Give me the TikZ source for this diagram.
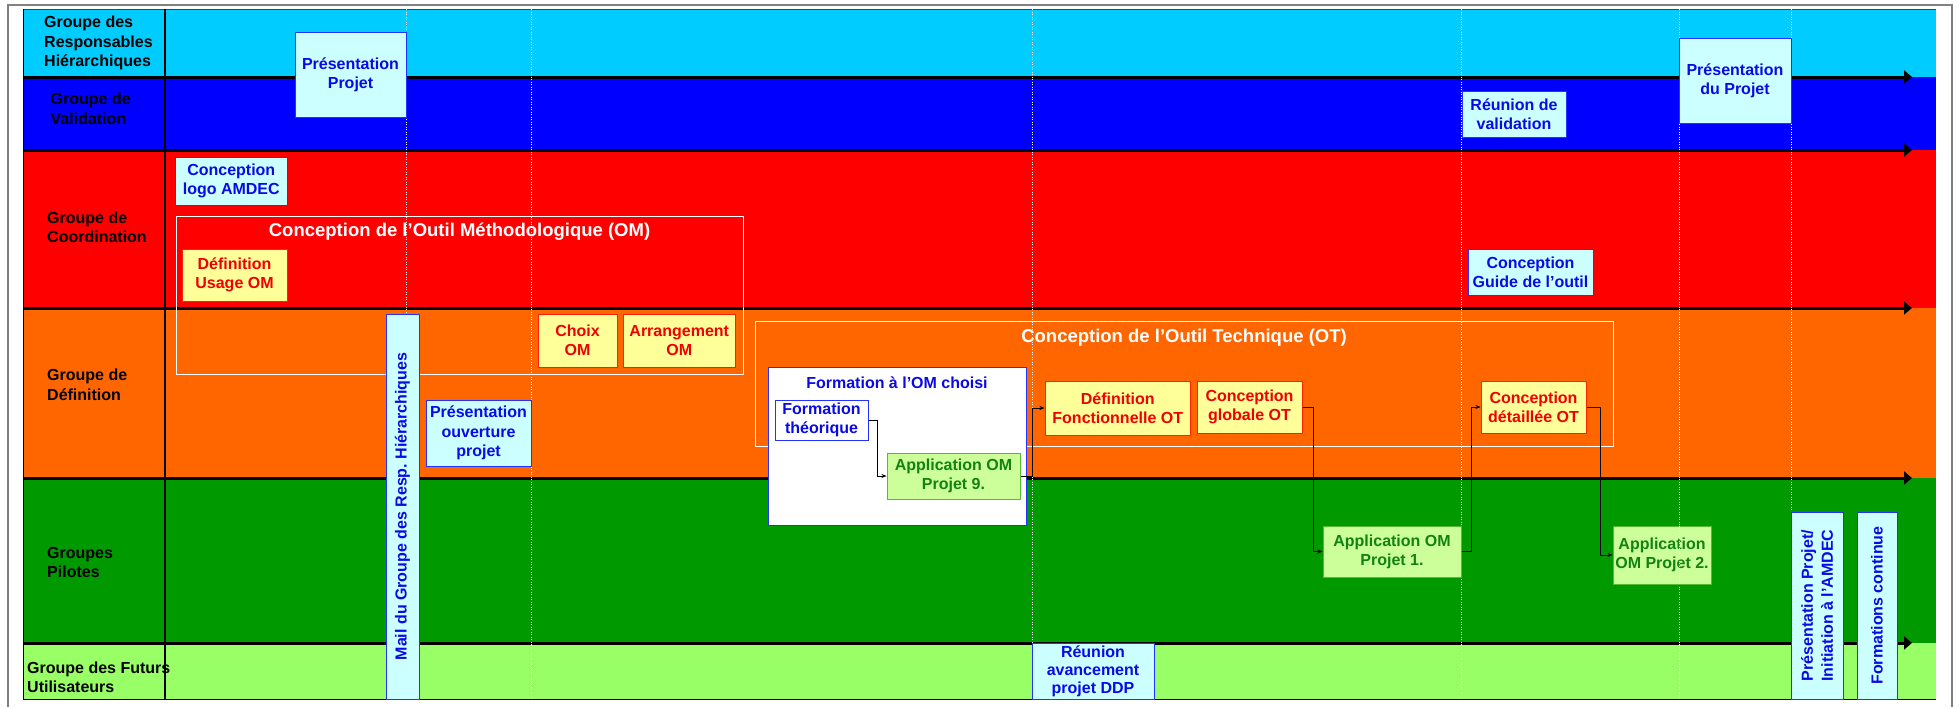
\documentclass[tikz,border=0pt]{standalone}
\usepackage{fontspec}
\setmainfont{Liberation Sans}
\usetikzlibrary{arrows.meta}
\definecolor{laneA}{HTML}{00CCFF}
\definecolor{laneB}{HTML}{0000FF}
\definecolor{laneC}{HTML}{FF0000}
\definecolor{laneD}{HTML}{FF6600}
\definecolor{laneE}{HTML}{009900}
\definecolor{laneF}{HTML}{99FF66}
\definecolor{cfill}{HTML}{CCFFFF}
\definecolor{bbord}{HTML}{2233FF}
\definecolor{btext}{HTML}{0A0AE6}
\definecolor{yfill}{HTML}{FFFF99}
\definecolor{rbord}{HTML}{FF2200}
\definecolor{rtext}{HTML}{F00000}
\definecolor{gfill}{HTML}{CCFF99}
\definecolor{gbord}{HTML}{55BB33}
\definecolor{gtext}{HTML}{128212}
\definecolor{framegray}{HTML}{808080}
\tikzset{
  lanelbl/.style={font=\fontsize{16}{19.5}\selectfont\bfseries, align=left, anchor=west, inner sep=0pt, text=black},
  bxbase/.style={inner sep=0pt, align=center, font=\fontsize{16}{19}\selectfont\bfseries, line width=1pt},
  cbox/.style={bxbase, draw=bbord, fill=cfill, text=btext},
  ybox/.style={bxbase, draw=rbord, fill=yfill, text=rtext},
  gbox/.style={bxbase, draw=gbord, fill=gfill, text=gtext},
  wbox/.style={bxbase, draw=bbord, fill=white, text=btext},
  omframe/.style={draw=white, line width=1pt, inner sep=0pt},
  ftitle/.style={text=white, font=\fontsize{18.5}{22}\selectfont\bfseries, inner sep=0pt},
  laneline/.style={line width=3pt, -{Triangle[length=8pt,width=13pt]}},
  conn/.style={line width=0.8pt, -{Stealth[length=5pt,width=4pt]}},
  vdot/.style={white, line width=1pt, dash pattern=on 1pt off 1.5pt},
}
\begin{document}
\begin{tikzpicture}[x=1pt,y=-1pt]
\useasboundingbox (0,0) rectangle (1959,707);
\fill[white] (0,0) rectangle (1959,707);
\draw[framegray, line width=2pt] (8,707) -- (8,5) -- (1952,5) -- (1952,707);
% lanes
\fill[laneA] (23,9) rectangle (1936,77);
\fill[laneB] (23,77) rectangle (1936,150);
\fill[laneC] (23,150) rectangle (1936,308);
\fill[laneD] (23,308) rectangle (1936,478);
\fill[laneE] (23,478) rectangle (1936,643);
\fill[laneF] (23,643) rectangle (1936,699);
\draw[bbord, line width=1pt] (23,9) -- (1936,9);
\draw[black, line width=0.8pt] (23,9) -- (23,699) -- (1936,699);
% lane labels
\node[lanelbl] (lA) at (44,43) {Groupe des\\Responsables\\Hiérarchiques};
\node[lanelbl] (lB) at (50.5,109) {Groupe de\\Validation};
\node[lanelbl] (lC) at (47,227.5) {Groupe de\\Coordination};
\node[lanelbl] (lD) at (47,385) {Groupe de\\Définition};
\node[lanelbl] (lE) at (47,562.5) {Groupes\\Pilotes};
\node[lanelbl] (lF) at (27,677.5) {Groupe des Futurs\\Utilisateurs};
% separators
\draw[line width=2.5pt] (165,9) -- (165,699);
\foreach \yy in {77,150,308,478,643} {
  \draw[laneline] (23,\yy) -- (1912,\yy);
}
% frames
\node[omframe, minimum width=567pt, minimum height=158pt] (fOM) at (459.5,295) {};
\node[ftitle] (tOM) at (459.5,232) {Conception de l’Outil Méthodologique (OM)};
\node[omframe, minimum width=858pt, minimum height=125pt] (fOT) at (1184,383.5) {};
\node[ftitle] (tOT) at (1184,338) {Conception de l’Outil Technique (OT)};
% dotted milestones
\foreach \xx in {406,531,1032,1461,1679,1791} {
  \draw[vdot] (\xx,9) -- (\xx,699);
}
% boxes
\node[cbox, minimum width=111pt, minimum height=85pt] (pp) at (350.5,74.5) {Présentation\\Projet};
\node[cbox, minimum width=111.5pt, minimum height=48pt] (cla) at (231.25,181) {Conception\\logo AMDEC};
\node[ybox, minimum width=105pt, minimum height=52pt] (duo) at (234.5,275) {Définition\\Usage OM};
\node[ybox, minimum width=79pt, minimum height=53pt] (com) at (577.5,340.5) {Choix\\OM};
\node[ybox, minimum width=112.5pt, minimum height=53pt] (aom) at (679.25,340.5) {Arrangement\\OM};
\node[cbox, rotate=90, minimum width=385pt, minimum height=33pt] (mail) at (402.5,506.5) {Mail du Groupe des Resp.\ Hiérarchiques};
\node[cbox, minimum width=105pt, minimum height=66pt, font=\fontsize{16}{19.5}\selectfont\bfseries] (pop) at (478.5,433) {Présentation\\ouverture\\projet};
\node[wbox, minimum width=258pt, minimum height=158pt] (fom) at (897,446) {};
\node[text=btext, font=\fontsize{16}{19}\selectfont\bfseries, inner sep=0pt] (tfom) at (897,383) {Formation à l’OM choisi};
\node[wbox, minimum width=93pt, minimum height=40pt] (ft) at (821.5,420) {Formation\\théorique};
\node[gbox, minimum width=133pt, minimum height=46pt] (ap9) at (953.5,476) {Application OM\\Projet 9.};
\node[ybox, minimum width=145.5pt, minimum height=54pt] (dfo) at (1117.75,408) {Définition\\Fonctionnelle OT};
\node[ybox, minimum width=105pt, minimum height=52pt] (cgo) at (1249.5,407) {Conception\\globale OT};
\node[ybox, minimum width=105pt, minimum height=52pt] (cdo) at (1533.5,407) {Conception\\détaillée OT};
\node[gbox, minimum width=138pt, minimum height=51pt] (ap1) at (1392,551.5) {Application OM\\Projet 1.};
\node[gbox, minimum width=98pt, minimum height=58pt] (ap2) at (1662,555) {Application\\OM Projet 2.};
\draw[vdot] (ap2.north -| 1679,0) -- (ap2.south -| 1679,0);
\node[cbox, minimum width=104pt, minimum height=46pt] (rv) at (1514,114) {Réunion de\\validation};
\node[cbox, minimum width=125pt, minimum height=46pt] (cg) at (1530.5,272) {Conception\\Guide de l’outil};
\node[cbox, minimum width=112pt, minimum height=85pt] (pdp) at (1735,80.5) {Présentation\\du Projet};
\node[cbox, minimum width=122pt, minimum height=56pt, font=\fontsize{16}{18}\selectfont\bfseries] (rad) at (1093,671) {Réunion\\avancement\\projet DDP};
\node[cbox, rotate=90, minimum width=187pt, minimum height=52pt, font=\fontsize{16}{20}\selectfont\bfseries] (ppi) at (1817,605.5) {Présentation Projet/\\Initiation à l’AMDEC};
\node[cbox, rotate=90, minimum width=187pt, minimum height=40pt] (fc) at (1877,605.5) {Formations continue};
% connectors
\draw[conn] (ft.east) -- ++(9,0) |- (ap9.west);
\draw[conn] (ap9.east) -- ++(12,0) |- (dfo.west);
\draw[conn] (cgo.east) -- ++(10.5,0) |- (ap1.west);
\draw[conn] (ap1.east) -- ++(10,0) |- (cdo.west);
\draw[conn] (cdo.east) -- ++(14,0) |- (ap2.west);
\end{tikzpicture}
\end{document}
